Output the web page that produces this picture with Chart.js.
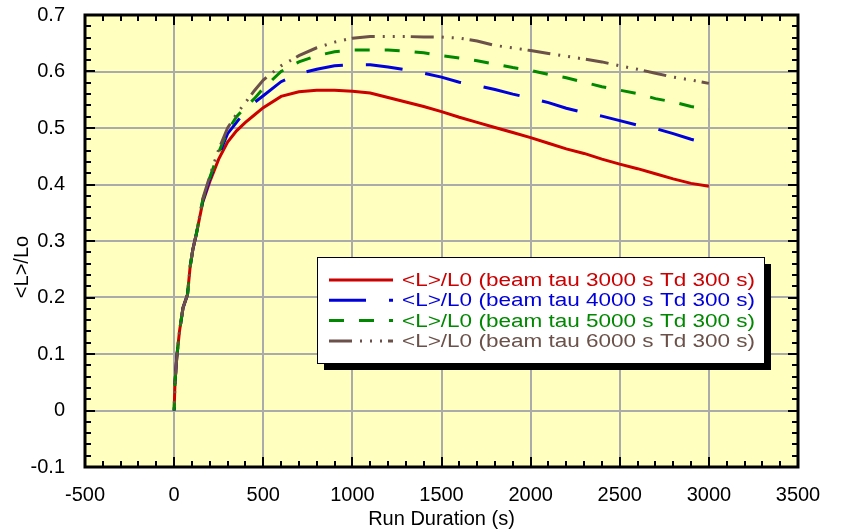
<!DOCTYPE html>
<html>
<head>
<meta charset="utf-8">
<script src="https://cdn.jsdelivr.net/npm/chart.js@4"></script>
<style>
  html, body { margin: 0; padding: 0; background: #fff; }
  canvas { display: block; }
</style>
</head>
<body>
<canvas id="lumiChart" width="841" height="532"></canvas>
<script>
// run duration (s) shared by all curves
const runDuration = [0, 5, 15, 30, 50, 75, 90, 105, 125, 160, 200, 250, 300, 350, 400, 450, 500,
  600, 700, 800, 900, 1000, 1100, 1200, 1300, 1400, 1500, 1600, 1700, 1800, 1900, 2000,
  2100, 2200, 2300, 2400, 2500, 2600, 2700, 2800, 2900, 3000];

// <L>/L0 for each beam lifetime
const lumTau3000 = [0, 0.05, 0.095, 0.14, 0.182, 0.205, 0.255, 0.285, 0.313, 0.368, 0.405, 0.445, 0.475, 0.495, 0.51, 0.523, 0.536,
  0.556, 0.564, 0.567, 0.567, 0.565, 0.562, 0.554, 0.546, 0.538, 0.529, 0.519, 0.51, 0.501, 0.492, 0.483,
  0.473, 0.463, 0.455, 0.445, 0.436, 0.428, 0.419, 0.41, 0.402, 0.397];
const lumTau4000 = [0, 0.05, 0.095, 0.14, 0.182, 0.205, 0.255, 0.285, 0.313, 0.37, 0.41, 0.452, 0.49, 0.51, 0.53, 0.545, 0.557,
  0.582, 0.596, 0.604, 0.61, 0.612, 0.612, 0.608, 0.603, 0.597, 0.59, 0.581, 0.575, 0.568, 0.56, 0.553,
  0.545, 0.535, 0.527, 0.521, 0.513, 0.505, 0.499, 0.49, 0.48, 0.472];
const lumTau5000 = [0, 0.05, 0.095, 0.14, 0.182, 0.205, 0.255, 0.285, 0.313, 0.372, 0.412, 0.457, 0.495, 0.52, 0.537, 0.552, 0.57,
  0.6, 0.617, 0.628, 0.635, 0.638, 0.638, 0.638, 0.636, 0.633, 0.628, 0.624, 0.619, 0.613, 0.607, 0.602,
  0.595, 0.589, 0.581, 0.573, 0.567, 0.561, 0.552, 0.546, 0.538, 0.533];
const lumTau6000 = [0, 0.05, 0.095, 0.14, 0.182, 0.205, 0.255, 0.285, 0.313, 0.374, 0.415, 0.462, 0.5, 0.525, 0.545, 0.566, 0.585,
  0.61, 0.628, 0.642, 0.652, 0.659, 0.662, 0.662, 0.662, 0.661, 0.661, 0.659, 0.654, 0.646, 0.642, 0.637,
  0.632, 0.627, 0.622, 0.617, 0.61, 0.604, 0.597, 0.59, 0.585, 0.579];

const seriesLabels = [
  '<L>/L0 (beam tau 3000 s Td 300 s)',
  '<L>/L0 (beam tau 4000 s Td 300 s)',
  '<L>/L0 (beam tau 5000 s Td 300 s)',
  '<L>/L0 (beam tau 6000 s Td 300 s)'
];

const xTickValues = [-500, 0, 500, 1000, 1500, 2000, 2500, 3000, 3500];
const yTickValues = [-0.1, 0, 0.1, 0.2, 0.3, 0.4, 0.5, 0.6, 0.7];

const FONT = '"Liberation Sans", Arial, sans-serif';
const colors = ['#CC0000', '#0000DD', '#008800', '#6B5149'];
const dashes = [[], [37, 23], [15, 15], [23, 8, 2, 8, 2, 8, 2, 6]];
// run duration where a dash should begin, so the pattern phase is fixed
const dashStarts = [null, 1736, 1848, 1983];

const toPoints = vals => runDuration.map((t, i) => ({ x: t, y: vals[i] }));

// yellow plot area, inward ticks, frame, y title and the boxed legend
const framePlugin = {
  id: 'frame',
  beforeDraw(chart) {
    const { ctx, chartArea: a } = chart;
    ctx.save();
    ctx.fillStyle = '#FFFFC0';
    ctx.fillRect(a.left, a.top, a.right - a.left, a.bottom - a.top);
    ctx.restore();
  },
  afterDatasetsDraw(chart) {
    const { ctx, chartArea: a, scales: { x, y } } = chart;
    ctx.save();
    ctx.strokeStyle = '#000';
    ctx.lineWidth = 2;
    ctx.beginPath();
    for (let i = 0; i <= 40; i++) {
      const px = Math.round(x.getPixelForValue(-500 + i * 100));
      const len = i % 5 === 0 ? 10 : 6;
      ctx.moveTo(px, a.bottom); ctx.lineTo(px, a.bottom - len);
      ctx.moveTo(px, a.top); ctx.lineTo(px, a.top + len);
    }
    for (let i = 0; i <= 40; i++) {
      const py = Math.round(y.getPixelForValue(-0.1 + i * 0.02));
      const len = i % 5 === 0 ? 10 : 6;
      ctx.moveTo(a.left, py); ctx.lineTo(a.left + len, py);
      ctx.moveTo(a.right, py); ctx.lineTo(a.right - len, py);
    }
    ctx.stroke();
    ctx.lineWidth = 3;
    ctx.strokeRect(a.left, a.top, a.right - a.left, a.bottom - a.top);

    // y axis title
    ctx.fillStyle = '#000';
    ctx.font = '20px ' + FONT;
    ctx.textAlign = 'center';
    ctx.textBaseline = 'middle';
    ctx.translate(22, 267);
    ctx.rotate(-Math.PI / 2);
    ctx.fillText('<L>/Lo', 0, 0);
    ctx.restore();
  },
  afterDraw(chart) {
    const { ctx } = chart;
    const bx = 317, by = 257, bw = 447, bh = 106;
    ctx.save();
    ctx.fillStyle = '#000';
    ctx.fillRect(bx + 7, by + 7, bw, bh);
    ctx.fillStyle = '#fff';
    ctx.fillRect(bx, by, bw, bh);
    ctx.strokeStyle = '#000';
    ctx.lineWidth = 1;
    ctx.strokeRect(bx + 0.5, by + 0.5, bw, bh);

    ctx.font = '18px ' + FONT;
    ctx.textBaseline = 'middle';
    ctx.textAlign = 'left';
    chart.data.datasets.forEach((ds, i) => {
      const ry = by + 23 + i * 20.3;
      ctx.strokeStyle = ds.borderColor;
      ctx.lineWidth = 3;
      ctx.setLineDash(ds.borderDash || []);
      ctx.beginPath();
      ctx.moveTo(bx + 12, ry);
      ctx.lineTo(bx + 76, ry);
      ctx.stroke();
      ctx.setLineDash([]);
      ctx.fillStyle = ds.borderColor;
      const w = ctx.measureText(ds.label).width;
      ctx.save();
      ctx.translate(bx + 85, ry + 1);
      ctx.scale(353 / w, 1);
      ctx.fillText(ds.label, 0, 0);
      ctx.restore();
    });
    ctx.restore();
  }
};

const datasets = [lumTau3000, lumTau4000, lumTau5000, lumTau6000].map((vals, i) => ({
  label: seriesLabels[i],
  data: toPoints(vals),
  borderColor: colors[i],
  borderWidth: 3,
  borderDash: dashes[i],
  borderCapStyle: 'butt',
  pointRadius: 0,
  tension: 0,
  fill: false,
  order: 3 - i
}));

const chart = new Chart(document.getElementById('lumiChart'), {
  type: 'line',
  data: { datasets },
  options: {
    responsive: false,
    animation: false,
    events: [],
    layout: { padding: { top: 15, right: 43, left: 0, bottom: 0 } },
    plugins: { legend: { display: false }, tooltip: { enabled: false } },
    scales: {
      x: {
        type: 'linear',
        min: -500,
        max: 3500,
        afterBuildTicks: s => { s.ticks = xTickValues.map(v => ({ value: v })); },
        afterFit: s => { s.height = 65; s.paddingLeft = 0; s.paddingRight = 0; },
        grid: { color: '#ABABAB', lineWidth: 2, drawTicks: false },
        border: { display: false },
        ticks: { color: '#000', font: { family: FONT, size: 20 }, padding: 16, maxRotation: 0, callback: v => String(v) },
        title: { display: true, text: 'Run Duration (s)', color: '#000', font: { family: FONT, size: 20 }, padding: { top: 0, bottom: 1 } }
      },
      y: {
        type: 'linear',
        min: -0.1,
        max: 0.7,
        afterBuildTicks: s => { s.ticks = yTickValues.map(v => ({ value: v })); },
        afterFit: s => { s.width = 85; s.paddingTop = 0; s.paddingBottom = 0; },
        grid: { color: '#ABABAB', lineWidth: 2, drawTicks: false },
        border: { display: false },
        ticks: { color: '#000', font: { family: FONT, size: 20 }, padding: 20, callback: v => String(+v.toFixed(1)) }
      }
    }
  },
  plugins: [framePlugin]
});

// shift each dash pattern so a dash begins at its dashStarts run duration
datasets.forEach((ds, i) => {
  const start = dashStarts[i];
  if (start == null) return;
  const pts = chart.getDatasetMeta(i).data;
  let len = 0;
  for (let k = 1; k < pts.length; k++) {
    const seg = Math.hypot(pts[k].x - pts[k - 1].x, pts[k].y - pts[k - 1].y);
    const t0 = runDuration[k - 1], t1 = runDuration[k];
    if (t1 <= start) { len += seg; continue; }
    len += seg * (start - t0) / (t1 - t0);
    break;
  }
  const period = ds.borderDash.reduce((s, d) => s + d, 0);
  ds.borderDashOffset = period - (len % period);
});
chart.update();
</script>
</body>
</html>
